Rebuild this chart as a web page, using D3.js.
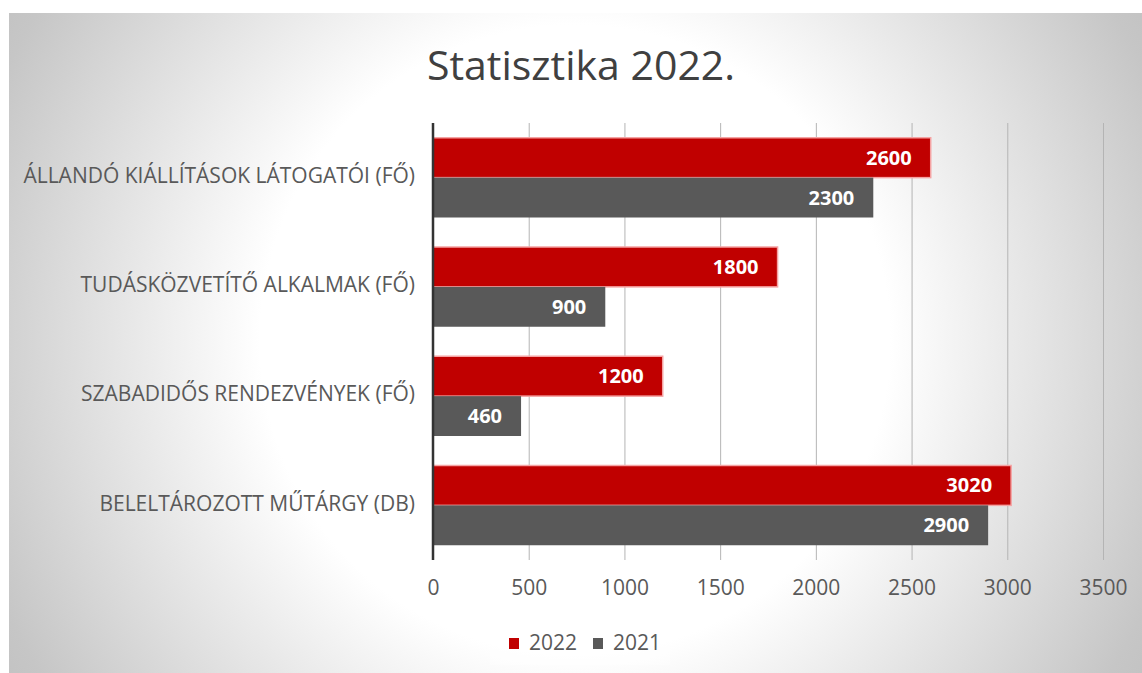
<!DOCTYPE html>
<html>
<head>
<meta charset="utf-8">
<script src="https://cdn.jsdelivr.net/npm/d3@7"></script>
<style>
  html, body { margin: 0; padding: 0; background: #fff; }
  svg { display: block; }
</style>
</head>
<body>
<svg id="chart"></svg>
<script>
// data
const categories = [
  "ÁLLANDÓ KIÁLLÍTÁSOK LÁTOGATÓI (FŐ)",
  "TUDÁSKÖZVETÍTŐ ALKALMAK (FŐ)",
  "SZABADIDŐS RENDEZVÉNYEK (FŐ)",
  "BELELTÁROZOTT MŰTÁRGY (DB)"
];
const series = ["2022", "2021"];
const values2022 = [2600, 1800, 1200, 3020];
const values2021 = [2300, 900, 460, 2900];
const xTicks = [0, 500, 1000, 1500, 2000, 2500, 3000, 3500];

const W = 1142, H = 673;
const margin = { top: 123, right: 39, bottom: 113, left: 433 };
const innerW = W - margin.left - margin.right;
const innerH = H - margin.top - margin.bottom;
const font = "'Open Sans', sans-serif";

const svg = d3.select("#chart").attr("width", W).attr("height", H);

// background with radial shading
const defs = svg.append("defs");
const grad = defs.append("radialGradient")
  .attr("id", "bg")
  .attr("gradientUnits", "userSpaceOnUse")
  .attr("cx", 575).attr("cy", 340).attr("r", 700);
grad.append("stop").attr("offset", 0).attr("stop-color", "#ffffff");
grad.append("stop").attr("offset", 0.45).attr("stop-color", "#ffffff");
grad.append("stop").attr("offset", 0.9).attr("stop-color", "#c6c6c6");
grad.append("stop").attr("offset", 1).attr("stop-color", "#bfbfbf");

svg.append("rect")
  .attr("x", 9).attr("y", 13)
  .attr("width", W - 9).attr("height", H - 13)
  .attr("fill", "url(#bg)");

// title
svg.append("text")
  .attr("x", 581).attr("y", 80)
  .attr("text-anchor", "middle")
  .attr("font-family", font)
  .attr("font-size", 41)
  .attr("fill", "#404040")
  .text("Statisztika 2022.");

const x = d3.scaleLinear().domain([0, 3500]).range([0, innerW]);
const y0 = d3.scaleBand().domain(categories).range([0, innerH])
  .paddingInner(0.27).paddingOuter(0.135);
const y1 = d3.scaleBand().domain(series).range([0, y0.bandwidth()]);
const color = d3.scaleOrdinal().domain(series).range(["#c00000", "#595959"]);

const g = svg.append("g").attr("transform", `translate(${margin.left},${margin.top})`);

// gridlines + tick labels
const xAxis = g.append("g")
  .attr("transform", `translate(0,${innerH})`)
  .call(d3.axisBottom(x).tickValues(xTicks).tickSize(innerH).tickFormat(d3.format("d")));
xAxis.select(".domain").remove();
xAxis.selectAll(".tick line")
  .attr("y1", 0).attr("y2", -innerH)
  .attr("stroke", "#b4b4b4").attr("stroke-width", 1);
xAxis.selectAll(".tick text")
  .attr("y", 20)
  .attr("font-family", font)
  .attr("font-size", 21)
  .attr("fill", "#595959");

// bars
const rows = categories.map((c, i) => ({
  cat: c,
  bars: [{ key: "2022", value: values2022[i] }, { key: "2021", value: values2021[i] }]
}));

const groups = g.selectAll("g.cat")
  .data(rows)
  .join("g")
  .attr("class", "cat")
  .attr("transform", d => `translate(0,${y0(d.cat)})`);

groups.selectAll("rect")
  .data(d => d.bars)
  .join("rect")
  .attr("x", 0)
  .attr("y", d => y1(d.key))
  .attr("width", d => x(d.value))
  .attr("height", y1.bandwidth())
  .attr("fill", d => color(d.key))
  .attr("stroke", d => d.key === "2022" ? "#f5a3a3" : "none")
  .attr("stroke-width", 1.5);

groups.selectAll("text.val")
  .data(d => d.bars)
  .join("text")
  .attr("class", "val")
  .attr("x", d => x(d.value) - 19)
  .attr("y", d => y1(d.key) + y1.bandwidth() / 2)
  .attr("dy", "0.35em")
  .attr("text-anchor", "end")
  .attr("font-family", font)
  .attr("font-weight", "bold")
  .attr("font-size", 20)
  .attr("fill", "#ffffff")
  .text(d => d.value);

// category labels
g.selectAll("text.cat")
  .data(categories)
  .join("text")
  .attr("class", "cat")
  .attr("x", -18)
  .attr("y", d => y0(d) + y0.bandwidth() / 2 - 2)
  .attr("dy", "0.35em")
  .attr("text-anchor", "end")
  .attr("font-family", font)
  .attr("font-size", 21)
  .attr("fill", "#595959")
  .text(d => d);

// vertical axis line
g.append("line")
  .attr("x1", 0).attr("x2", 0)
  .attr("y1", 0).attr("y2", innerH)
  .attr("stroke", "#333333").attr("stroke-width", 2.5);

// legend
const legend = svg.append("g").attr("transform", "translate(490,621)");
legend.append("rect")
  .attr("width", 180).attr("height", 44)
  .attr("fill", "#ffffff").attr("fill-opacity", 0.35);

const item = legend.selectAll("g.item")
  .data(series)
  .join("g")
  .attr("class", "item")
  .attr("transform", (d, i) => `translate(${19 + i * 84},0)`);

item.append("rect")
  .attr("y", 17).attr("width", 10).attr("height", 11)
  .attr("fill", d => color(d));

item.append("text")
  .attr("x", 20).attr("y", 22)
  .attr("dy", "0.35em")
  .attr("font-family", font)
  .attr("font-size", 21)
  .attr("fill", "#595959")
  .text(d => d);
</script>
</body>
</html>
